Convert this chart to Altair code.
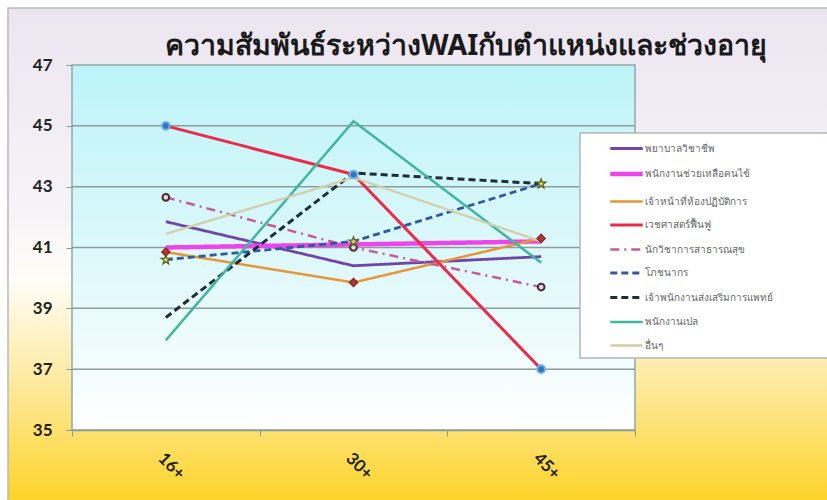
import altair as alt
import pandas as pd

# ---------------- data ----------------
title_text = "ความสัมพันธ์ระหว่างWAIกับตำแหน่งและช่วงอายุ"
ages = ["16+", "30+", "45+"]
series = [
    "พยาบาลวิชาชีพ",
    "พนักงานช่วยเหลือคนไข้",
    "เจ้าหน้าที่ห้องปฏิบัติการ",
    "เวชศาสตร์ฟื้นฟู",
    "นักวิชาการสาธารณสุข",
    "โภชนากร",
    "เจ้าพนักงานส่งเสริมการแพทย์",
    "พนักงานเปล",
    "อื่นๆ",
]
v_nurse = [41.85, 40.4, 40.7]
v_aide = [41.0, 41.1, 41.2]
v_lab = [40.85, 39.85, 41.3]
v_rehab = [45.0, 43.4, 37.0]
v_health = [42.65, 41.0, 39.7]
v_nutri = [40.6, 41.2, 43.1]
v_medic = [38.7, 43.45, 43.1]
v_porter = [37.95, 45.15, 40.5]
v_other = [41.45, 43.3, 41.2]
values = [v_nurse, v_aide, v_lab, v_rehab, v_health, v_nutri, v_medic, v_porter, v_other]
y_ticks = [35, 37, 39, 41, 43, 45, 47]
grid_vals = [37, 39, 41, 43, 45]

colors = ["#7044a8", "#ee44ee", "#e8953a", "#ee2a4a", "#c65b9a",
          "#2f5a9e", "#1f2d3a", "#40b5a0", "#d2d0aa"]
dashes = [[1, 0], [1, 0], [1, 0], [1, 0], [9, 5, 2, 5],
          [7, 4], [7, 4], [1, 0], [1, 0]]
widths = [2.8, 4.5, 2.5, 3, 2.5, 2.8, 3, 2.5, 2.3]

rows = []
for s, vals in zip(series, values):
    for a, v in zip(ages, vals):
        rows.append({"series": s, "age": a, "value": v})
df = pd.DataFrame(rows)

W, H = 563, 365
PL, PT = 72, 65
CW, CH = 827, 500

x_enc = alt.X("age:N", sort=ages, title=None,
              axis=alt.Axis(labelAngle=45, labelAlign="center", labelBaseline="middle",
                            labelPadding=30, labelOffset=5, labelFontSize=17,
                            labelFontWeight="bold",
                            labelColor="#222222", tickBand="extent", ticks=True,
                            tickSize=6, tickColor="#8a9a9a", domainColor="#8a9a9a",
                            domainWidth=1.5, grid=False, zindex=1,
                            labelFont="Lato"))
y_scale = alt.Scale(domain=[35, 47], nice=False, zero=False)
y_enc = alt.Y("value:Q", scale=y_scale, title=None,
              axis=alt.Axis(values=y_ticks, labelFontSize=17, labelFontWeight="bold",
                            labelColor="#222222", labelPadding=14, tickSize=6,
                            tickColor="#8a9a9a", domain=False, grid=False, zindex=1,
                            labelFont="Lato"))

one = pd.DataFrame({"k": [0]})

# outer background (gradient)
outer = alt.Chart(one).mark_rect(
    fill=alt.LinearGradient(
        gradient="linear", x1=0, x2=0, y1=0, y2=1,
        stops=[alt.GradientStop(color="#ebe5f0", offset=0),
               alt.GradientStop(color="#f7f4f8", offset=0.42),
               alt.GradientStop(color="#fffdf6", offset=0.55),
               alt.GradientStop(color="#fde99c", offset=0.76),
               alt.GradientStop(color="#fdd325", offset=1)]),
    stroke="#b8b8c0", strokeWidth=1.5,
).encode(x=alt.value(8 - PL), x2=alt.value(CW - PL + 5),
         y=alt.value(8 - PT), y2=alt.value(CH - PT + 5))

# plot area background
plotbg = alt.Chart(one).mark_rect(
    fill=alt.LinearGradient(
        gradient="linear", x1=0, x2=0, y1=0, y2=1,
        stops=[alt.GradientStop(color="#bcf4f8", offset=0),
               alt.GradientStop(color="#dcf8fa", offset=0.5),
               alt.GradientStop(color="#ffffff", offset=1)]),
    stroke="#94a6a6", strokeWidth=1.5,
).encode(x=alt.value(0), x2=alt.value(W), y=alt.value(0), y2=alt.value(H))

grid = alt.Chart(pd.DataFrame({"g": grid_vals})).mark_rule(
    color="#8e9c9c", strokeWidth=1.5
).encode(y=alt.Y("g:Q", scale=y_scale), x=alt.value(0), x2=alt.value(W))

title = alt.Chart(pd.DataFrame({"t": [title_text]})).mark_text(
    align="left", baseline="alphabetic", fontSize=28.5, fontWeight="bold",
    color="#1a1a1a", font="Noto Sans"
).encode(text="t:N", x=alt.value(165 - PL), y=alt.value(55 - PT))

# legend box
legbox = alt.Chart(one).mark_rect(fill="#ffffff", stroke="#b5b5b5", strokeWidth=1.5).encode(
    x=alt.value(580 - PL), x2=alt.value(CW - PL + 5),
    y=alt.value(133 - PT), y2=alt.value(358 - PT))

lines = alt.Chart(df).mark_line(strokeCap="butt").encode(
    x=x_enc, y=y_enc,
    color=alt.Color("series:N", sort=series,
                    scale=alt.Scale(domain=series, range=colors),
                    legend=alt.Legend(title=None, orient="none", legendX=508, legendY=66,
                                      padding=4, symbolType="M-1.35,0L1.35,0",
                                      symbolSize=576,
                                      symbolStrokeWidth=2.5, symbolOffset=28,
                                      labelFontSize=10, labelColor="#666666",
                                      labelOffset=4, rowPadding=4.5, labelLimit=220,
                                      labelFont="Noto Sans")),
    strokeDash=alt.StrokeDash("series:N", sort=series,
                              scale=alt.Scale(domain=series, range=dashes)),
    strokeWidth=alt.StrokeWidth("series:N",
                                scale=alt.Scale(type="ordinal", domain=series, range=widths),
                                legend=None),
    order=alt.Order("age:N"),
)

def pts(name, shape, fill, stroke, size, sw=1.2):
    return alt.Chart(df).transform_filter(alt.datum.series == name).mark_point(
        shape=shape, filled=True, fill=fill, stroke=stroke, size=size, strokeWidth=sw,
        opacity=1
    ).encode(x=alt.X("age:N", sort=ages), y=alt.Y("value:Q", scale=y_scale))

p_lab = pts(series[2], "diamond", "#b8342c", "#7a2a20", 70)
p_rehab = pts(series[3], "circle", "#2e75c6", "#6fb0e8", 60, 2)
p_health = pts(series[4], "circle", "#e8d8e0", "#4a2a30", 45, 2)
p_nutri = pts(series[5], "M0,-1L0.25,-0.3L1,-0.3L0.4,0.15L0.6,0.9L0,0.45L-0.6,0.9L-0.4,0.15L-1,-0.3L-0.25,-0.3Z",
              "#d8d860", "#5a5a20", 90)

chart = alt.layer(outer, plotbg, grid, title, lines, p_lab, p_rehab, p_health, p_nutri,
                  legbox).properties(
    width=W, height=H,
    padding={"left": PL, "top": PT, "right": CW - PL - W, "bottom": CH - PT - H},
    autosize=alt.AutoSizeParams(type="none"),
    background="#ffffff",
).configure_view(stroke=None).resolve_scale(x="shared", y="shared")

chart.save("out.html", embed_options={"renderer": "svg", "actions": False})
